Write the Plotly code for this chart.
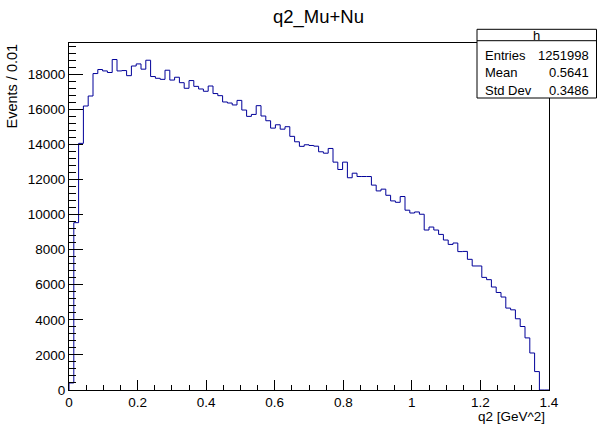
import numpy as np
import plotly.graph_objects as go

# q2 distribution: 100 bins of width 0.014 on [0, 1.4]
bin_low = 0.0
bin_width = 0.014
counts = [
    400, 9540, 14060, 16190, 16760, 18040, 18270, 18190, 18100, 18840,
    18190, 18210, 17920, 18470, 18590, 18290, 18800, 17870, 17770, 17710,
    18230, 17670, 17830, 17520, 17200, 17640, 17310, 17160, 17030, 17330,
    16900, 16780, 16420, 16360, 16250, 16510, 15960, 15600, 15710, 16210,
    15620, 15350, 14930, 15120, 14870, 15010, 14460, 14150, 13890, 13980,
    13940, 13900, 13580, 13500, 13770, 12990, 12570, 12990, 12100, 12360,
    12170, 12170, 12170, 11680, 11350, 11450, 11100, 10780, 10700, 11030,
    10250, 10090, 10150, 10020, 9120, 9290, 9120, 8870, 8550, 8300,
    8380, 7890, 7900, 7450, 7070, 7070, 6420, 6290, 5870, 5560,
    5300, 4670, 4570, 4060, 3620, 2970, 2110, 1050, 0, 0,
]

# statistics box
stat_name = "h"
stat_labels = ["Entries", "Mean", "Std Dev"]
stat_values = ["1251998", "0.5641", "0.3486"]

title_text = "q2_Mu+Nu"
x_title = "q2 [GeV^2]"
y_title = "Events / 0.01"

W, H = 597, 428
L, R, T, B = 69, 48, 43, 38
plot_w = W - L - R
plot_h = H - T - B
FONT = "Liberation Sans, Arial, Helvetica, sans-serif"


def px(x):
    return (x - L) / plot_w


def py(y):
    return (H - B - y) / plot_h


edges = bin_low + bin_width * np.arange(len(counts) + 1)
x_line = np.concatenate([[edges[0]], edges])
y_line = np.concatenate([[0], counts, [counts[-1]]])

fig = go.Figure()
fig.add_trace(go.Scatter(
    x=x_line, y=y_line, mode="lines", line_shape="hv",
    line=dict(color="#000099", width=1), hoverinfo="skip",
    showlegend=False,
))

ymax = 1.05 * max(counts)

fig.update_layout(
    width=W, height=H,
    margin=dict(l=L, r=R, t=T, b=B, pad=0),
    paper_bgcolor="white", plot_bgcolor="white",
    font=dict(family=FONT, size=13, color="black"),
    xaxis=dict(
        range=[0, 1.4], showgrid=False, zeroline=False,
        showline=True, linecolor="black", linewidth=1, mirror=True,
        ticks="inside", ticklen=10, tickwidth=1, tickcolor="black",
        tick0=0, dtick=0.2,
        minor=dict(ticks="inside", ticklen=5, tickwidth=1,
                   tickcolor="black", dtick=0.05, showgrid=False),
        tickfont=dict(size=13.5),
    ),
    yaxis=dict(
        range=[0, ymax], showgrid=False, zeroline=False,
        showline=True, linecolor="black", linewidth=1, mirror=True,
        ticks="inside", ticklen=14, tickwidth=1, tickcolor="black",
        tick0=0, dtick=2000, tickformat="d",
        minor=dict(ticks="inside", ticklen=7, tickwidth=1,
                   tickcolor="black", dtick=400, showgrid=False),
        tickfont=dict(size=13.5),
    ),
)

ann = []
ann.append(dict(text=title_text, x=px(318), y=py(17), xanchor="center",
                yanchor="middle", font=dict(size=18.5)))
ann.append(dict(text=y_title, x=px(1), y=py(86.5), xanchor="left",
                yanchor="middle", textangle=-90, font=dict(size=14.5)))
ann.append(dict(text=x_title, x=px(547), y=py(416.5), xanchor="right",
                yanchor="middle", font=dict(size=13.5)))

# statistics box
box_l, box_r, box_t, box_b, box_sep = 477, 596.5, 29.3, 98, 40.7
ann.append(dict(text=stat_name, x=px((box_l + box_r) / 2), y=py(35),
                xanchor="center", yanchor="middle", font=dict(size=13)))
for lab, val, yc in zip(stat_labels, stat_values, [55.7, 72.7, 90]):
    ann.append(dict(text=lab, x=px(483), y=py(yc), xanchor="left",
                    yanchor="middle", font=dict(size=13)))
    ann.append(dict(text=val, x=px(591), y=py(yc), xanchor="right",
                    yanchor="middle", font=dict(size=13)))
for a in ann:
    a.update(xref="paper", yref="paper", showarrow=False)
fig.update_layout(annotations=ann)

fig.add_shape(type="rect", xref="paper", yref="paper",
              x0=px(box_l), x1=px(box_r), y0=py(box_b), y1=py(box_t),
              fillcolor="white", line=dict(color="black", width=1),
              layer="above")
fig.add_shape(type="line", xref="paper", yref="paper",
              x0=px(box_l), x1=px(box_r), y0=py(box_sep), y1=py(box_sep),
              line=dict(color="black", width=1), layer="above")

fig.write_html("out.html")
